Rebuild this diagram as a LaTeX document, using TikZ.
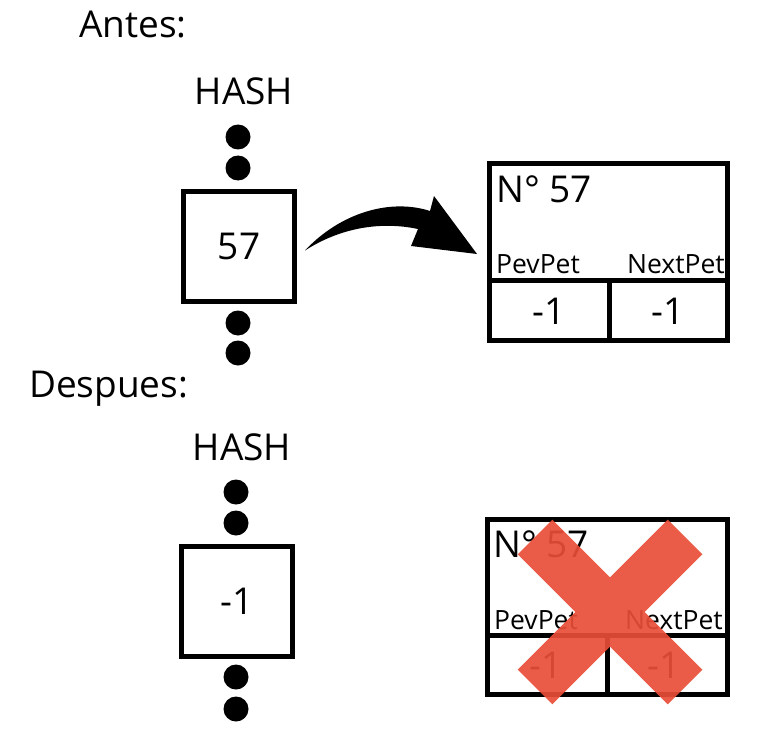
\documentclass[tikz,border=0pt]{standalone}
\usepackage{fontspec}
\setmainfont{Open Sans}
\usetikzlibrary{calc}
\definecolor{crossred}{RGB}{233,78,56}
\tikzset{
  big/.style={font=\fontsize{37}{42}\selectfont, inner sep=0pt},
  small/.style={font=\fontsize{26.5}{30}\selectfont, inner sep=0pt},
  dot/.style={circle, fill=black, minimum size=25pt, inner sep=0pt},
  hashbox/.style={draw, line width=5pt, minimum width=111pt, minimum height=110pt, inner sep=0pt, font=\fontsize{37}{42}\selectfont},
  rec/.style={line width=5pt},
  cross/.style={line width=49pt, crossred}
}
\begin{document}
\begin{tikzpicture}[x=1pt, y=-1pt]
\useasboundingbox (0,0) rectangle (775,738);
% ---------- Antes ----------
\node[big, anchor=base west] (antes) at (79,38) {Antes:};
\node[big, anchor=base] (hash1) at (244,105) {HASH};
\node[dot] (d1) at (238,137) {};
\node[dot] (d2) at (238,168) {};
\node[hashbox] (box1) at (239,246.5) {57};
\node[dot] (d3) at (238,323) {};
\node[dot] (d4) at (238,353) {};
% record 1
\draw[rec] (489.5,163.5) rectangle (727.5,340.5);
\coordinate (r1ml) at (489.5,280);
\coordinate (r1mr) at (727.5,280);
\coordinate (r1dt) at (609,280);
\coordinate (r1db) at (609,340.5);
\draw[rec] (r1ml) -- (r1mr);
\draw[rec] (r1dt) -- (r1db);
\node[big, anchor=base west] (n1) at (496,202) {N° 57};
\node[small, anchor=base west] (p1) at (496,273) {PevPet};
\node[small, anchor=base east] (x1) at (725,273) {NextPet};
\node[big] (v1a) at (549,311) {-1};
\node[big] (v1b) at (668,311) {-1};
% curved arrow (filled shape)
\coordinate (as) at ($(box1.east)+(8,4)$);
\coordinate (at) at (477,254);
\fill (as) .. controls (340,213) and (390,198) .. (430,211)
  -- (434,196) -- (at) -- (411,246) -- (418,229)
  .. controls (380,221) and (340,228) .. (as) -- cycle;
% ---------- Despues ----------
\node[big, anchor=base west] (despues) at (29,397) {Despues:};
\node[big, anchor=base] (hash2) at (242,460) {HASH};
\node[dot] (e1) at (236,492) {};
\node[dot] (e2) at (236,523) {};
\node[hashbox] (box2) at (237,601.5) {-1};
\node[dot] (e3) at (236,677) {};
\node[dot] (e4) at (236,709) {};
% record 2
\draw[rec] (487.5,519.5) rectangle (727.5,694.5);
\coordinate (r2ml) at (487.5,635);
\coordinate (r2mr) at (727.5,635);
\coordinate (r2dt) at (607,635);
\coordinate (r2db) at (607,694.5);
\draw[rec] (r2ml) -- (r2mr);
\draw[rec] (r2dt) -- (r2db);
\node[big, anchor=base west] (n2) at (493,557) {N° 57};
\node[small, anchor=base west] (p2) at (494,629) {PevPet};
\node[small, anchor=base east] (x2) at (723,629) {NextPet};
\node[big] (v2a) at (546,665) {-1};
\node[big] (v2b) at (664,665) {-1};
% red cross
\coordinate (c1a) at (535,537);
\coordinate (c1b) at (685,687);
\coordinate (c2a) at (685,537);
\coordinate (c2b) at (535,687);
\begin{scope}[transparency group, opacity=0.92]
\draw[cross] (c1a) -- (c1b);
\draw[cross] (c2a) -- (c2b);
\end{scope}
\end{tikzpicture}
\end{document}
